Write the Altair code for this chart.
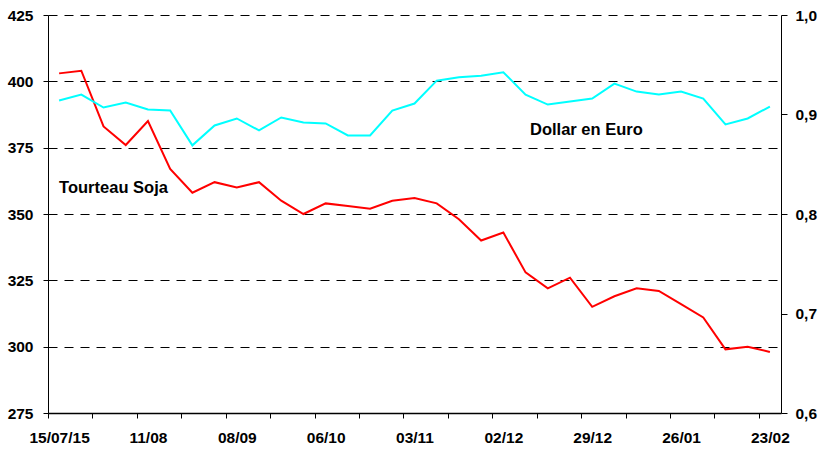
import json
import altair as alt
import pandas as pd

# ---- data ----
soja = [403, 404, 383, 376, 385, 367, 358, 362, 360, 362, 355, 350, 354, 353, 352,
        355, 356, 354, 348, 340, 343, 328, 322, 326, 315, 319, 322, 321, 316, 311,
        299, 300, 298]
dollar = [0.914, 0.920, 0.907, 0.912, 0.905, 0.904, 0.869, 0.889, 0.896, 0.884,
          0.897, 0.892, 0.891, 0.879, 0.879, 0.904, 0.911, 0.934, 0.9375, 0.939,
          0.9425, 0.920, 0.910, 0.913, 0.916, 0.931, 0.923, 0.920, 0.923, 0.916,
          0.890, 0.896, 0.908]
date_labels = ["15/07/15", "11/08", "08/09", "06/10", "03/11", "02/12", "29/12", "26/01", "23/02"]
left_ticks = [275, 300, 325, 350, 375, 400, 425]
right_ticks = [0.6, 0.7, 0.8, 0.9, 1.0]
series_names = ["Tourteau Soja", "Dollar en Euro"]
label_x = [0.0, 21.2]
label_y = [357.8, 0.879]

n = len(soja)
df = pd.DataFrame({"i": list(range(n)), "soja": soja, "dollar": dollar})
lab_soja = pd.DataFrame({"x": [label_x[0]], "y": [label_y[0]], "t": [series_names[0]]})
lab_dollar = pd.DataFrame({"x": [label_x[1]], "y": [label_y[1]], "t": [series_names[1]]})

FONT = "Liberation Sans, Arial, sans-serif"
TICK_FS = 15.5
W, H = 733, 398
band = W / n

boundaries = [k - 0.5 for k in range(n + 1)]
arr = json.dumps(date_labels)
x_label_expr = f"((datum.value + 0.5) % 4 == 0) ? {arr}[(datum.value + 0.5) / 4] : ''"

xscale = alt.Scale(domain=[-0.5, n - 0.5], nice=False, zero=False)
xaxis = alt.Axis(values=boundaries, labelExpr=x_label_expr, labelOffset=band / 2,
                 labelFlush=False, labelOverlap=False, grid=False, title=None,
                 tickSize=5, tickColor="black", domainColor="black", domainWidth=1.5,
                 labelFont=FONT, labelFontSize=TICK_FS, labelFontWeight="bold",
                 labelColor="black", labelPadding=12)

yL = alt.Scale(domain=[275, 425], nice=False, zero=False)
yR = alt.Scale(domain=[0.6, 1.0], nice=False, zero=False)

left_axis = alt.Axis(values=left_ticks, title=None, grid=True, gridColor="black",
                     gridDash=[9, 7], gridWidth=1, tickSize=5, tickColor="black",
                     domainColor="black", labelFont=FONT, labelFontSize=TICK_FS,
                     labelFontWeight="bold", labelColor="black", labelPadding=10)
right_axis = alt.Axis(values=right_ticks, orient="right", title=None, grid=False,
                      tickSize=6, tickColor="black", domainColor="black",
                      labelExpr="replace(format(datum.value, '.1f'), '.', ',')",
                      labelFont=FONT, labelFontSize=TICK_FS, labelFontWeight="bold",
                      labelColor="black", labelPadding=8)

red_line = alt.Chart(df).mark_line(color="#FF0000", strokeWidth=2).encode(
    x=alt.X("i:Q", scale=xscale, axis=xaxis),
    y=alt.Y("soja:Q", scale=yL, axis=left_axis),
)
red_text = alt.Chart(lab_soja).mark_text(
    align="left", baseline="alphabetic", font=FONT, fontSize=16.5, fontWeight="bold", color="black"
).encode(x=alt.X("x:Q", scale=xscale), y=alt.Y("y:Q", scale=yL), text="t:N")

cyan_line = alt.Chart(df).mark_line(color="#00FFFF", strokeWidth=2).encode(
    x=alt.X("i:Q", scale=xscale),
    y=alt.Y("dollar:Q", scale=yR, axis=right_axis),
)
cyan_text = alt.Chart(lab_dollar).mark_text(
    align="left", baseline="alphabetic", font=FONT, fontSize=16.5, fontWeight="bold", color="black"
).encode(x=alt.X("x:Q", scale=xscale), y=alt.Y("y:Q", scale=yR), text="t:N")

chart = alt.layer(
    alt.layer(red_line, red_text),
    alt.layer(cyan_line, cyan_text),
).resolve_scale(y="independent").properties(
    width=W, height=H,
    autosize=alt.AutoSizeParams(type="none"),
    padding={"left": 48, "top": 15, "right": 37, "bottom": 39},
    background="white",
).configure_view(stroke=None)

chart.save("out.html", embed_options={"renderer": "svg", "actions": False})
